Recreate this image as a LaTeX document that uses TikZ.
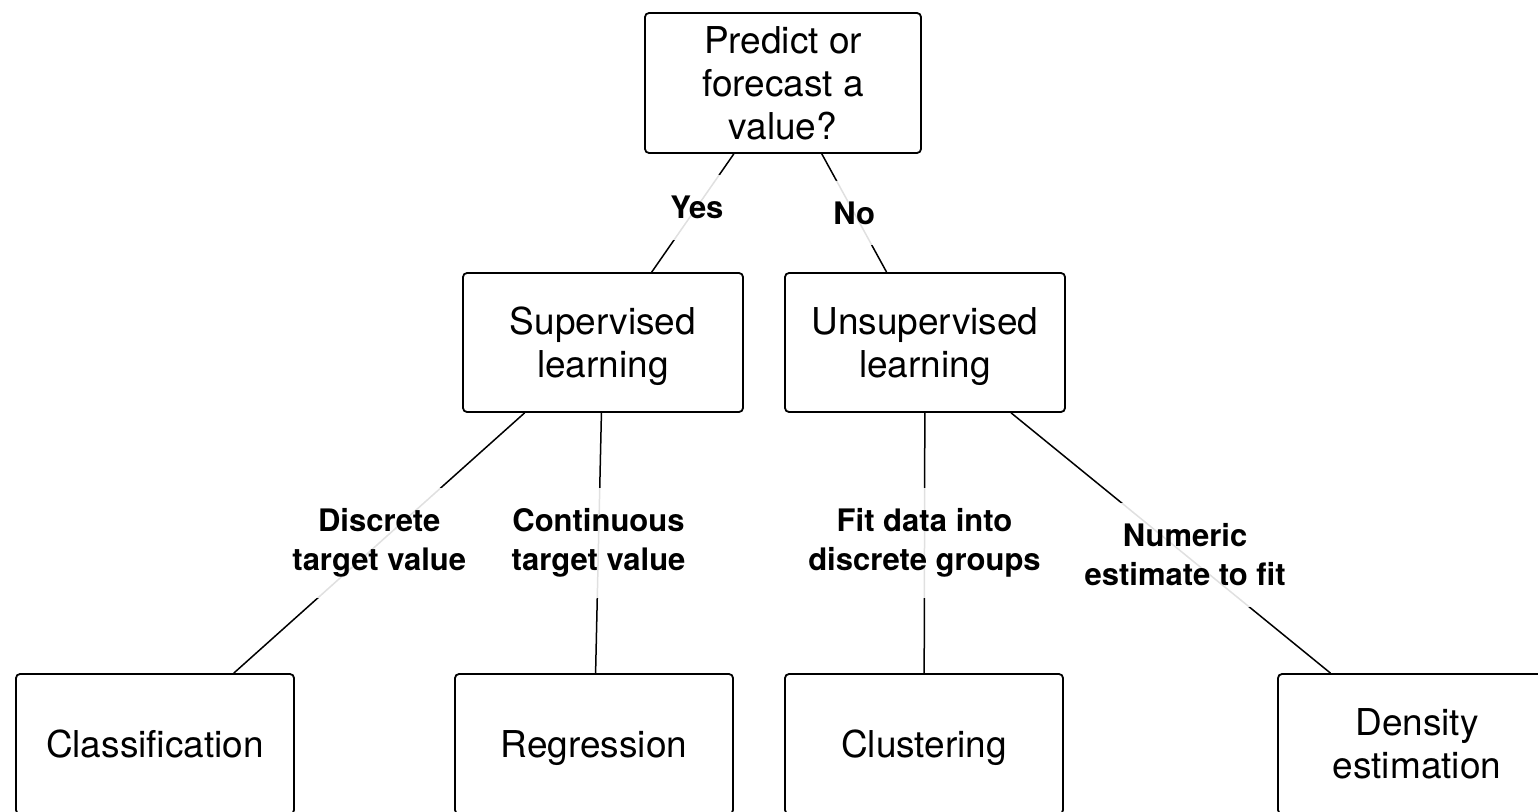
\documentclass[tikz,border=0pt]{standalone}
\usepackage{fontspec}
\setmainfont{TeX Gyre Heros}
\begin{document}
\begin{tikzpicture}[x=1bp,y=-1bp,
  box/.style={draw, line width=1.8bp, rounded corners=4bp, minimum width=278bp, minimum height=140bp, inner sep=0pt},
  boxtext/.style={font=\fontsize{37bp}{43bp}\selectfont, align=center, inner sep=0pt},
  edge/.style={line width=1.5bp},
  lbl/.style={font=\fontsize{31bp}{39bp}\selectfont\bfseries, align=center, fill=white, fill opacity=0.88, text opacity=1, inner xsep=8bp, inner ysep=21bp}]
\useasboundingbox (0,0) rectangle (1538,811);
\node[box, minimum width=276bp, label={[boxtext, name=topt]center:Predict or\\forecast a\\value?}] (top) at (783,83) {};
\node[box, minimum width=280bp, minimum height=139bp, label={[boxtext, yshift=-4bp, name=supt]center:Supervised\\learning}] (sup) at (603,342.5) {};
\node[box, minimum width=280bp, minimum height=139bp, label={[boxtext, yshift=-4bp, name=unsupt]center:Unsupervised\\learning}] (unsup) at (925,342.5) {};
\node[box, label={[boxtext, name=classt]center:Classification}] (class) at (155,744) {};
\node[box, label={[boxtext, yshift=-4bp, name=regrt]center:Regression}] (regr) at (594,744) {};
\node[box, label={[boxtext, yshift=-4bp, name=clust]center:Clustering}] (clus) at (924,744) {};
\node[box, label={[boxtext, name=denst]center:Density\\estimation}] (dens) at (1417,744) {};
\draw[edge] (top) -- node[lbl, pos=0.45] (yes) {Yes} (sup);
\draw[edge] (top) -- node[lbl] (no) {No} (unsup);
\draw[edge] (sup) -- node[lbl] (disc) {Discrete\\target value} (class);
\draw[edge] (sup) -- node[lbl] (cont) {Continuous\\target value} (regr);
\draw[edge] (unsup) -- node[lbl] (fit) {Fit data into\\discrete groups} (clus);
\draw[edge] (unsup) -- node[lbl, pos=0.545] (num) {Numeric\\estimate to fit} (dens);
\end{tikzpicture}
\end{document}
